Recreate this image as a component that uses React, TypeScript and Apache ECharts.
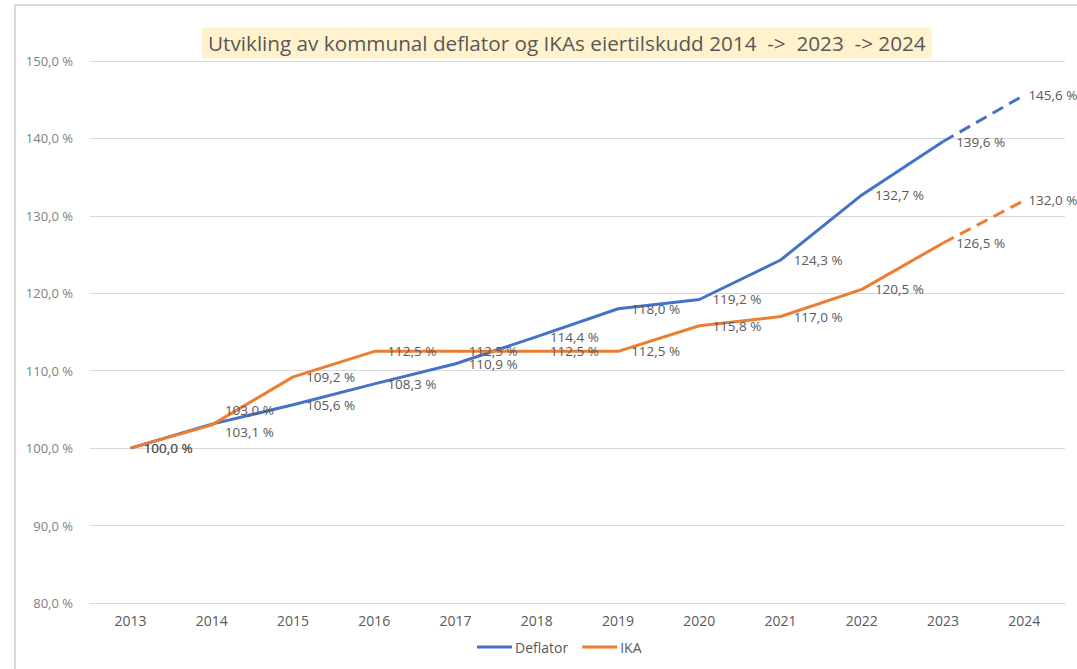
import React, { useEffect, useRef } from "react";
import * as echarts from "echarts";

const years = ["2013", "2014", "2015", "2016", "2017", "2018", "2019", "2020", "2021", "2022", "2023", "2024"];
const deflator = [100.0, 103.1, 105.6, 108.3, 110.9, 114.4, 118.0, 119.2, 124.3, 132.7, 139.6, 145.6];
const ika = [100.0, 103.0, 109.2, 112.5, 112.5, 112.5, 112.5, 115.8, 117.0, 120.5, 126.5, 132.0];
const yTicks = { min: 80, max: 150, interval: 10 };
const titleText = "Utvikling av kommunal deflator og IKAs eiertilskudd 2014  ->  2023  -> 2024";
const seriesNames = ["Deflator", "IKA"];

const fmt = (v: number) => v.toFixed(1).replace(".", ",") + " %";
const FONT = "'Open Sans', sans-serif";
const LABEL_COLOR = "#595959";

export default function App() {
  const ref = useRef<HTMLDivElement>(null);
  useEffect(() => {
    if (!ref.current) return;
    const chart = echarts.init(ref.current, null, { renderer: "svg" });
    const lastIdx = years.length - 1;
    const solidData = (vals: number[], special: Record<number, any>) =>
      vals.map((v, i) => {
        if (i === lastIdx) return null;
        const item: any = { value: v };
        if (special[i]) item.label = special[i];
        return item;
      });
    const dashData = (vals: number[]) =>
      vals.map((v, i) => {
        if (i < lastIdx - 1) return null;
        if (i === lastIdx) return { value: v, label: { show: true, distance: 4 } };
        return { value: v, label: { show: false } };
      });
    const baseLabel = {
      show: true,
      position: "right",
      distance: 13,
      color: LABEL_COLOR,
      fontFamily: FONT,
      fontSize: 13.5,
      formatter: (p: any) => fmt(p.value),
    };
    const colors = ["#4472C4", "#ED7D31"];
    const mk = (name: string, vals: number[], color: string, special: Record<number, any>) => [
      {
        name,
        type: "line",
        data: solidData(vals, special),
        symbol: "circle",
        symbolSize: 0,
        showSymbol: true,
        lineStyle: { color, width: 3 },
        itemStyle: { color },
        label: baseLabel,
        z: 3,
      },
      {
        name: name + "_proj",
        type: "line",
        data: dashData(vals),
        symbol: "circle",
        symbolSize: 0,
        showSymbol: true,
        lineStyle: { color, width: 3, type: [12, 7] },
        itemStyle: { color },
        label: { ...baseLabel, show: false },
        z: 3,
      },
    ];
    const option: any = {
      animation: false,
      color: colors,
      title: {
        text: titleText,
        left: 202,
        top: 28,
        backgroundColor: "#FFF2CC",
        padding: [5, 6, 5, 6],
        textStyle: { color: "#595959", fontFamily: FONT, fontSize: 20.7, lineHeight: 20, fontWeight: "normal" },
      },
      grid: { left: 90, right: 12, top: 61, bottom: 66, containLabel: false },
      xAxis: {
        type: "category",
        data: years,
        boundaryGap: true,
        axisLine: { lineStyle: { color: "#d9d9d9", width: 1 } },
        axisTick: { show: false },
        axisLabel: { color: LABEL_COLOR, fontFamily: FONT, fontSize: 14, margin: 10 },
      },
      yAxis: {
        type: "value",
        min: yTicks.min,
        max: yTicks.max,
        interval: yTicks.interval,
        axisLine: { show: false },
        axisTick: { show: false },
        splitLine: { lineStyle: { color: "#d9d9d9", width: 1 } },
        axisLabel: { color: "#7f7f7f", fontFamily: FONT, fontSize: 13, margin: 17, formatter: (v: number) => fmt(v) },
      },
      legend: {
        data: seriesNames.map((n) => ({ name: n, icon: "rect" })),
        bottom: 10,
        left: 472,
        itemWidth: 35,
        itemHeight: 3,
        itemGap: 14,
        textStyle: { color: LABEL_COLOR, fontFamily: FONT, fontSize: 14, padding: [0, 0, 0, -2] },
      },
      graphic: [
        { type: "line", shape: { x1: 15, y1: 5, x2: 1077, y2: 5 }, style: { stroke: "#d9d9d9", lineWidth: 2 } },
        { type: "line", shape: { x1: 15, y1: 5, x2: 15, y2: 669 }, style: { stroke: "#d9d9d9", lineWidth: 2 } },
      ],
      series: [
        ...mk(seriesNames[0], deflator, colors[0], { 1: { offset: [0, 8] } }),
        ...mk(seriesNames[1], ika, colors[1], { 1: { offset: [0, -15] } }),
      ],
    };
    chart.setOption(option);
    return () => chart.dispose();
  }, []);
  return (
    <div
      ref={ref}
      style={{ position: "fixed", left: 0, top: 0, width: 1077, height: 669, background: "#fff" }}
    />
  );
}
